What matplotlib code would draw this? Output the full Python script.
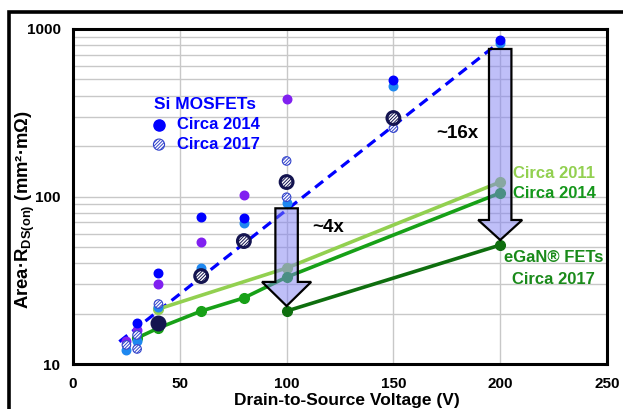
import matplotlib
matplotlib.use('Agg')
import matplotlib.pyplot as plt
from matplotlib.patches import Polygon, Rectangle

# Si MOSFETs circa 2014 (solid dots, three vendor colours)
si_blue_v = [30, 40, 60, 80, 150, 200]
si_blue_r = [17.6, 34.9, 75.5, 74.5, 497, 860]
si_light_v = [25, 30, 40, 60, 80, 100, 150, 200]
si_light_r = [12.1, 13.7, 21.9, 37.4, 69.5, 91.5, 457, 830]
si_purple_v = [25, 30, 40, 60, 80, 100]
si_purple_r = [13.7, 15.9, 30.0, 53.5, 102, 382]
# Si MOSFETs circa 2017 (hatched dots)
si17_v = [25, 30, 30, 40, 100, 100, 150]
si17_r = [13.0, 14.9, 12.3, 22.8, 163, 99, 256]
# best-in-class Si (big navy circles)
best_v = [60, 80, 100, 150]
best_r = [33.5, 54.2, 122, 294]
best_solid_v = [40]
best_solid_r = [17.6]
# Si trend line
trend_v = [21.7, 200]
trend_r = [13.6, 840]

# eGaN FETs
gan11_v = [40, 100, 200]
gan11_r = [21.3, 37.4, 122]
gan14_v = [30, 40, 60, 80, 100, 200]
gan14_r = [14.3, 16.4, 20.7, 24.8, 33.0, 105]
gan17_v = [100, 200]
gan17_r = [20.7, 51.3]

# improvement arrows
arrow_v = [100, 200]
arrow_top = [85, 760]
arrow_base = [30.9, 72.4]
arrow_tip = [22.2, 55]
arrow_labels = ['~4x', '~16x']

xticks = [0, 50, 100, 150, 200, 250]

plt.rcParams.update({
    'font.family': ['Liberation Sans', 'DejaVu Sans'],
    'font.weight': 'bold',
    'axes.labelweight': 'bold',
    'mathtext.fontset': 'custom',
    'mathtext.rm': 'Liberation Sans:bold',
    'mathtext.it': 'Liberation Sans:bold',
    'mathtext.bf': 'Liberation Sans:bold',
    'hatch.color': '#3344cc',
    'hatch.linewidth': 0.7,
})

fig = plt.figure(figsize=(6.23, 4.09), dpi=100)
ax = fig.add_axes([73/623, 1-364/409, 534/623, 335/409])

# outer frame
fig.patches.append(Rectangle((8.5/623, -0.2), 2, 1.2-11.5/409, transform=fig.transFigure,
                             fill=False, edgecolor='black', lw=2.6, zorder=0))

ax.set_yscale('log')
ax.set_xlim(0, 250)
ax.set_ylim(10, 1000)
ax.set_xticks(xticks)
ax.set_yticks([10, 100, 1000])
ax.set_yticklabels(['10', '100', '1000'])
ax.yaxis.set_minor_formatter(matplotlib.ticker.NullFormatter())
ax.tick_params(which='both', length=0, labelsize=11, pad=9)
for lab in ax.get_xticklabels() + ax.get_yticklabels():
    lab.set_fontweight('bold')
ax.grid(True, which='both', axis='y', color='#c8c8c8', lw=1.0, zorder=0)
ax.grid(True, which='major', axis='x', color='#c8c8c8', lw=1.0, zorder=0)
ax.set_axisbelow(True)
for s in ax.spines.values():
    s.set_linewidth(2.2)

ax.set_xlabel('Drain-to-Source Voltage (V)', fontsize=12.5, fontweight='bold', va='center')
ax.xaxis.set_label_coords(0.513, -0.11)
ax.set_ylabel('Area·R$_{\\mathrm{DS(on)}}$ (mm²·mΩ)', fontsize=13.3, fontweight='bold', va='center')
ax.yaxis.set_label_coords(-0.09, 0.46)

# Si trend
ax.plot(trend_v, trend_r, color='#0000ff', lw=2.3, linestyle=(0, (3.2, 2.0)), zorder=3)

# eGaN lines
ax.plot(gan11_v, gan11_r, color='#92d050', lw=2.6, marker='o', ms=7, mec='#92d050', zorder=3)
ax.plot(gan14_v, gan14_r, color='#17a017', lw=2.6, marker='o', ms=7, zorder=3)
ax.plot(gan17_v, gan17_r, color='#0e6e0e', lw=2.6, marker='o', ms=7, zorder=3)

# Si points
ax.scatter(si_purple_v, si_purple_r, s=38, color='#8020f0', zorder=4)
ax.scatter(si_light_v, si_light_r, s=38, color='#1e88f0', zorder=4)
h14 = ax.scatter(si_blue_v, si_blue_r, s=38, color='#0000ff', zorder=4)
h17 = ax.scatter(si17_v, si17_r, s=38, facecolor='white', edgecolor='#3344cc', hatch='//////////', lw=0.8, zorder=4)
ax.scatter(best_v, best_r, s=85, facecolor='white', edgecolor='#141450', hatch='//////////', lw=2.2, zorder=5)
ax.scatter(best_solid_v, best_solid_r, s=110, color='#141450', zorder=5)

# arrows
sw = 10.5
head_half = [11.5, 10.3]
for v, top, base, tip, hw in zip(arrow_v, arrow_top, arrow_base, arrow_tip, head_half):
    pts = [(v - sw/2, top), (v + sw/2, top), (v + sw/2, base), (v + hw, base),
           (v, tip), (v - hw, base), (v - sw/2, base)]
    ax.add_patch(Polygon(pts, closed=True, facecolor=(0.5, 0.5, 0.95, 0.5),
                         edgecolor='black', lw=1.6, zorder=6))

ax.text(119.4, 64.9, arrow_labels[0], fontsize=13.5, fontweight='bold', ha='center', va='center', zorder=7)
ax.text(180, 239, arrow_labels[1], fontsize=13.5, fontweight='bold', ha='center', va='center', zorder=7)

ax.text(206, 138, 'Circa 2011', color='#92d050', fontsize=12, fontweight='bold', va='center', zorder=7)
ax.text(206, 103.5, 'Circa 2014', color='#14961a', fontsize=12, fontweight='bold', va='center', zorder=7)
ax.text(225, 43, 'eGaN® FETs', color='#1a8a1a', fontsize=12, fontweight='bold', ha='center', va='center', zorder=7)
ax.text(225, 32.1, 'Circa 2017', color='#1a8a1a', fontsize=12, fontweight='bold', ha='center', va='center', zorder=7)

leg = ax.legend([h14, h17], ['Circa 2014', 'Circa 2017'], title='Si MOSFETs',
                loc='upper center', bbox_to_anchor=(0.248, 0.822), frameon=False,
                prop={'size': 12, 'weight': 'bold'}, title_fontsize=12.5,
                handlelength=1.0, handletextpad=0.6,
                labelspacing=0.3, borderpad=0, scatterpoints=1, markerscale=1.3)
leg.get_title().set_color('#0000ff')
leg.get_title().set_fontweight('bold')
for t in leg.get_texts():
    t.set_color('#0000ff')

fig.savefig('out.png', dpi=100)
